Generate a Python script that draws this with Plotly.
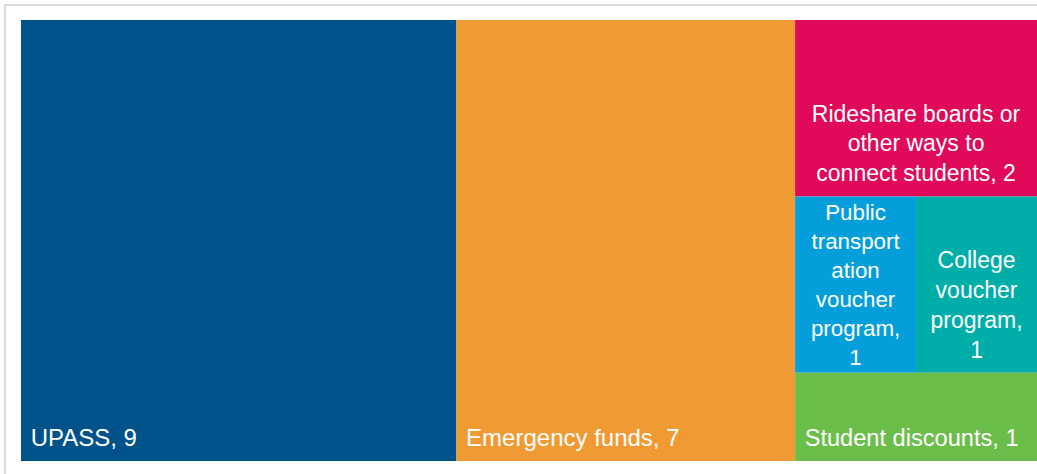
import plotly.graph_objects as go

# ---- data ----
categories = [
    "UPASS",
    "Emergency funds",
    "Rideshare boards or other ways to connect students",
    "Public transportation voucher program",
    "College voucher program",
    "Student discounts",
]
values = [9, 7, 2, 1, 1, 1]
label_lines = [
    ["UPASS, "],
    ["Emergency funds, "],
    ["Rideshare boards or", "other ways to", "connect students, "],
    ["Public", "transport", "ation", "voucher", "program,", ""],
    ["College", "voucher", "program,", ""],
    ["Student discounts, "],
]
colors = ["#00538A", "#F09A34", "#E1095A", "#049FDB", "#00AEA9", "#6CBE4B"]

NBSP = "\u00a0"
# invisible tall spacer that lifts the label off the tile's bottom edge
STRUT = '<span style="font-size:56px">\u00a0</span>'


def label_text(lines, value, lead, centered):
    body = [lead + ln for ln in lines[:-1]]
    last = lead + lines[-1] + str(value)
    if len(lines) < 5:
        last = (STRUT if centered else "") + last + STRUT
    return "<br>".join(body + [last])


single = [len(l) == 1 for l in label_lines]
text_left = [label_text(l, v, NBSP, False) if s else ""
             for l, v, s in zip(label_lines, values, single)]
text_center = ["" if s else label_text(l, v, "", True)
               for l, v, s in zip(label_lines, values, single)]

common = dict(
    ids=categories,
    labels=categories,
    parents=[""] * len(categories),
    values=values,
    texttemplate="%{text}",
    tiling=dict(packing="squarify", squarifyratio=1, pad=0),
    pathbar=dict(visible=False),
    hoverinfo="label+value",
)

fig = go.Figure()
fig.add_trace(go.Treemap(
    text=text_left, textposition="bottom left",
    textfont=dict(family="Arial, Liberation Sans, sans-serif", size=24, color="white"),
    marker=dict(colors=colors, line=dict(width=0), pad=dict(t=0, l=0, r=0, b=0)),
    **common,
))
fig.add_trace(go.Treemap(
    text=text_center, textposition="bottom center",
    textfont=dict(family="Arial, Liberation Sans, sans-serif", size=23, color="white"),
    marker=dict(colors=["rgba(0,0,0,0)"] * len(categories), line=dict(width=0),
                pad=dict(t=0, l=0, r=0, b=0)),
    **common,
))

fig.update_layout(
    width=1037,
    height=474,
    autosize=False,
    margin=dict(l=21, r=0, t=20, b=13),
    paper_bgcolor="white",
    plot_bgcolor="white",
    shapes=[
        dict(
            type="rect", xref="paper", yref="paper",
            x0=-0.0158, x1=1.05, y0=-0.2, y1=1.034,
            line=dict(color="#DCDCDC", width=2),
            fillcolor="rgba(0,0,0,0)", layer="below",
        ),
    ],
)

fig.write_html(
    "out.html",
    config={"displayModeBar": False},
    post_script="document.body.style.margin='0';",
)
